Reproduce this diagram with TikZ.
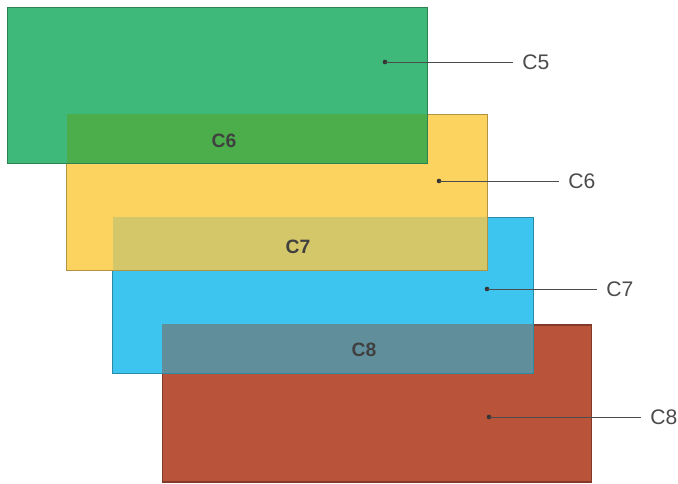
\documentclass[tikz,border=0pt]{standalone}
\usepackage{fontspec}
\setmainfont{Liberation Sans}
\usetikzlibrary{positioning}
\definecolor{layergreen}{RGB}{62, 185, 122}
\definecolor{layeryellow}{RGB}{253, 211, 95}
\definecolor{layerblue}{RGB}{62, 197, 239}
\definecolor{layerbrown}{RGB}{185, 83, 58}
\definecolor{mixgreen}{RGB}{76, 174, 74}
\definecolor{mixyellow}{RGB}{212, 199, 106}
\definecolor{mixblue}{RGB}{96, 143, 155}
\definecolor{tagtext}{RGB}{75, 75, 75}

\begin{document}
\begin{tikzpicture}[
  x=0.02cm, y=-0.02cm,
  layer/.style={inner sep=0pt, minimum width=8.4cm, minimum height=3.1cm, line width=0.6pt},
  tag/.style={font=\fontsize{12}{14}\selectfont, text=tagtext, inner xsep=0.18cm, inner ysep=0pt, anchor=west},
  overlap/.style={font=\bfseries\fontsize{11}{13}\selectfont, text=black!75},
  leader/.style={draw=black!70, line width=0.55pt},
  dot/.style={circle, fill=black!80, inner sep=0pt, minimum size=2.6pt}
]
  \useasboundingbox (0,0) rectangle (678,483);

  % layers, lowest first
  \node[layer, fill=layerbrown, draw=layerbrown!70!black, minimum width=8.6cm, minimum height=3.14cm] (c8) at (377,403.5) {};
  \node[layer, fill=layerblue] (c7) at (323,295.5) {};
  \begin{scope}
    \clip (c7.north west) rectangle (c7.south east);
    \fill[mixblue] (c8.north west) rectangle (c8.south east);
  \end{scope}
  \draw[layerblue!70!black, line width=0.6pt] (c7.north west) rectangle (c7.south east);

  \node[layer, fill=layeryellow] (c6) at (277,192.5) {};
  \begin{scope}
    \clip (c6.north west) rectangle (c6.south east);
    \fill[mixyellow] (c7.north west) rectangle (c7.south east);
  \end{scope}
  \draw[layeryellow!70!black, line width=0.6pt] (c6.north west) rectangle (c6.south east);

  \node[layer, fill=layergreen, minimum width=8.38cm] (c5) at (217.5,85.5) {};
  \begin{scope}
    \clip (c5.north west) rectangle (c5.south east);
    \fill[mixgreen] (c6.north west) rectangle (c6.south east);
  \end{scope}
  \draw[layergreen!70!black, line width=0.6pt] (c5.north west) rectangle (c5.south east);

  % overlap labels
  \node[overlap] (o6) at (224,141) {C6};
  \node[overlap] (o7) at (298,247) {C7};
  \node[overlap] (o8) at (364,350) {C8};

  % leaders
  \node[dot] (d5) at (385,62) {};
  \node[dot] (d6) at (439,181) {};
  \node[dot] (d7) at (487,289) {};
  \node[dot] (d8) at (489,417) {};

  \node[tag] (t5) at (513,62) {C5};
  \node[tag] (t6) at (559,181) {C6};
  \node[tag] (t7) at (597,289) {C7};
  \node[tag] (t8) at (641,417) {C8};

  \draw[leader] (d5.center) -- (t5.west);
  \draw[leader] (d6.center) -- (t6.west);
  \draw[leader] (d7.center) -- (t7.west);
  \draw[leader] (d8.center) -- (t8.west);

\end{tikzpicture}
\end{document}
